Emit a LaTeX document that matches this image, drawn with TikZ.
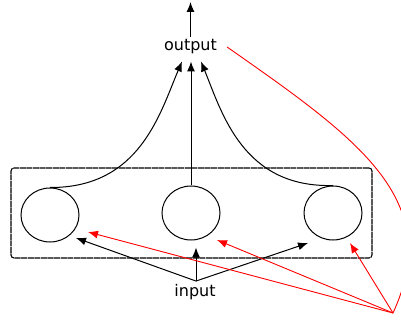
\documentclass[tikz,border=0pt]{standalone}
\usepackage{fontspec}
\setmainfont{DejaVu Sans}
\usetikzlibrary{shapes.geometric,arrows.meta}
\begin{document}
\begin{tikzpicture}[x=1pt,y=-1pt,
  lbl/.style={font=\fontsize{16}{18}\selectfont, inner sep=0pt},
  unit/.style={draw, ellipse, line width=1pt, minimum width=58pt, minimum height=54pt, inner sep=0pt},
  conn/.style={line width=1pt, -{Latex[length=10pt,width=8pt]}},
  rconn/.style={draw=red, line width=0.9pt, -{Latex[length=10pt,width=8pt]}},
  layer/.style={draw, line width=1.1pt, rounded corners=3pt, dash pattern=on 6pt off 0.6pt}]
\useasboundingbox (0,0) rectangle (401,320);
\node[layer, minimum width=361pt, minimum height=90pt, inner sep=0pt] (box) at (191.5,213) {};
\node[unit] (l) at (50,215) {};
\node[unit] (m) at (191,213) {};
\node[unit] (r) at (333,213) {};
\node[lbl] (out) at (190.5,47) {output};
\node[lbl] (in) at (195,292) {input};
\coordinate (top) at (190.5,2);
\coordinate (p) at (393,313);
\coordinate (la) at (88,232);
\coordinate (ma) at (217,240);
\coordinate (ra) at (350,243);
\coordinate (lb) at (76,238);
\coordinate (rb) at (308,243);
% to output
\draw[conn] ([yshift=3pt]out.north) -- (top);
\draw[conn] (l.north) .. controls (140,188) and (160,113) .. ([xshift=-8.5pt,yshift=-7pt]out.south);
\draw[conn] (m.north) -- ([xshift=0.5pt,yshift=-7pt]out.south);
\draw[conn] (r.north) .. controls (243,188) and (222,113) .. ([xshift=10.5pt,yshift=-7pt]out.south);
% from input
\draw[conn] ([xshift=1pt,yshift=3pt]in.north) -- (lb);
\draw[conn] ([xshift=1pt,yshift=3pt]in.north) -- ([xshift=5pt,yshift=-7pt]m.south);
\draw[conn] ([xshift=1pt,yshift=3pt]in.north) -- (rb);
% red
\draw[rconn] (p) -- (la);
\draw[rconn] (p) -- (ma);
\draw[rconn] (p) -- (ra);
\draw[red, line width=0.9pt] ([xshift=10pt]out.east) .. controls (360,140) and (445,200) .. (p);
\end{tikzpicture}
\end{document}
